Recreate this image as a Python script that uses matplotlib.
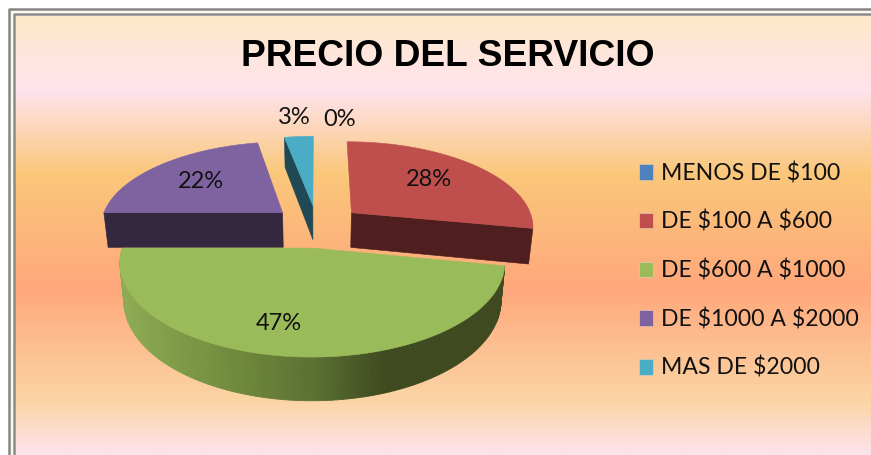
#!/usr/bin/env python3

import numpy as np
import matplotlib
matplotlib.use("Agg")
import matplotlib.pyplot as plt
from matplotlib.colors import LinearSegmentedColormap, to_rgb
from matplotlib.patches import Patch

title = "PRECIO DEL SERVICIO"
categories = ["MENOS DE $100", "DE $100 A $600", "DE $600 A $1000", "DE $1000 A $2000", "MAS DE $2000"]
values = [0, 28, 47, 22, 3]
colors = ["#4F81BD", "#BE4F4C", "#9ABB59", "#7F63A1", "#4BACC6"]
side_colors = ["#254061", "#4E1F1E", "#3F4A20", "#33283F", "#1F4955"]
label_xy = [(340, 120), (429, 180), (279, 323), (201, 181), (294, 117)]

# background stops, fraction of height of the plot area
bg_stops = [0.0, 0.17, 0.36, 0.62, 0.88, 1.0]
bg_colors = ["#FDE9C8", "#FFE3EE", "#FAC77A", "#FFA87C", "#FBD5A5", "#FEE3EE"]

# projection of the pie plane to pixels
cx, cy = 317, 226
A, B, persp = 183, 85.3, 0.15
depth = 35.5
shrink = 0.02
explode = 0.25


def project(X, Y, z=0.0):
  w = 1 + persp * Y
  return cx + A * X / w * (1 - shrink * z), cy - B * Y / w + z * depth / w


def wedge_xy(a0, a1, ox, oy):
  t = np.radians(np.linspace(a0, a1, 80))
  X = np.r_[ox, ox + np.sin(t)]
  Y = np.r_[oy, oy + np.cos(t)]
  return X, Y


fig = plt.figure(figsize=(8.71, 4.55), dpi=100)
ax = fig.add_axes([0, 0, 1, 1])
ax.set_xlim(0, 871)
ax.set_ylim(455, 0)
ax.axis("off")

cmap = LinearSegmentedColormap.from_list("bg", list(zip(bg_stops, bg_colors)))
grad = np.linspace(0, 1, 256).reshape(-1, 1)
ax.imshow(grad, cmap=cmap, extent=(15, 871, 455, 15), aspect="auto", zorder=0)
ax.set_xlim(0, 871)
ax.set_ylim(455, 0)

# double frame
ax.plot([9, 9, 871], [455, 9, 9], color="#858585", lw=1.8, zorder=1, solid_joinstyle="round")
ax.plot([14, 14, 871], [455, 14, 14], color="#8C8C8C", lw=1.8, zorder=1)
ax.fill_between([10, 13], 455, 10, color="#FFF8EC", lw=0, zorder=0.5)
ax.fill_between([13, 871], 10, 13, color="#FFF8EC", lw=0, zorder=0.5)

edges = np.cumsum([0] + values) * 360.0 / sum(values)

# back to front: blue, purple, red, green
for i in [4, 3, 1, 2]:
  a0, a1 = edges[i], edges[i + 1]
  mid = np.radians((a0 + a1) / 2)
  ox, oy = explode * np.sin(mid), explode * np.cos(mid)
  if i == 2:
    # curved outer wall, shaded from the left
    t = np.radians(np.linspace(a1, a0, 120))
    X, Y = ox + np.sin(t), oy + np.cos(t)
    x0, y0 = project(X, Y)
    x1, y1 = project(X, Y, 1)
    wall_x = [125, 230, 315, 385, 510]
    wall_c = np.array([to_rgb(c) for c in ["#8CAB54", "#718C3E", "#5B7033", "#3F4A20", "#3F4A20"]])
    for j in range(len(t) - 1):
      xm = (x0[j] + x0[j + 1]) / 2
      c = [np.interp(xm, wall_x, wall_c[:, k]) for k in range(3)]
      ax.fill([x0[j], x0[j + 1], x1[j + 1], x1[j]], [y0[j], y0[j + 1], y1[j + 1], y1[j]],
              color=c, lw=0.6, zorder=2 + i)
  else:
    # the flat cut face that looks at the viewer
    a = a0 if i in (3, 4) else a1
    Xr = np.array([ox, ox + np.sin(np.radians(a))])
    Yr = np.array([oy, oy + np.cos(np.radians(a))])
    x0, y0 = project(Xr, Yr)
    x1, y1 = project(Xr, Yr, 1)
    ax.fill([x0[0], x0[1], x1[1], x1[0]], [y0[0], y0[1], y1[1], y1[0]],
            color=side_colors[i], lw=0.4, zorder=2 + i)
  X, Y = wedge_xy(a0, a1, ox, oy)
  sx, sy = project(X, Y)
  ax.fill(sx, sy, color=colors[i], lw=0.4, zorder=8 + i)

for v, (lx, ly) in zip(values, label_xy):
  ax.text(lx, ly, "%d%%" % v, ha="center", va="center", family="Lato", fontsize=17,
          color="#111111", zorder=20)

ax.text(448, 57, title, ha="center", va="center", family="Liberation Sans", weight="bold",
        fontsize=26.7, color="black", zorder=20)

handles = [Patch(facecolor=c, edgecolor="#E8D0C0", lw=0.4) for c in colors]
leg = ax.legend(handles, categories, loc="upper left", bbox_to_anchor=(638.5 / 871, 1 - 162 / 455),
                frameon=False, prop={"family": "Lato", "size": 16.6}, labelspacing=1.16,
                handlelength=0.62, handleheight=0.66, handletextpad=0.36, borderpad=0, borderaxespad=0)
leg.set_zorder(20)
for txt in leg.get_texts():
  txt.set_color("#111111")
  txt.set_parse_math(False)

fig.savefig("out.png", dpi=100)
